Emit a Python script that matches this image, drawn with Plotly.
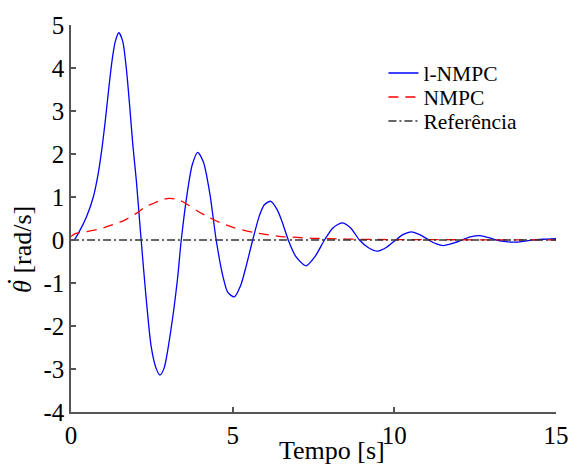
import plotly.graph_objects as go

# l-NMPC (blue)
t_lnmpc = [0.0, 0.09, 0.28, 0.48, 0.69, 0.84, 0.96, 1.06, 1.17, 1.28, 1.37, 1.48, 1.6, 1.71, 1.81,
           1.91, 2.02, 2.12, 2.17, 2.32, 2.48, 2.63, 2.75, 2.88, 3.09, 3.29, 3.41,
           3.6, 3.75, 3.92, 4.1, 4.3, 4.49, 4.7, 4.85, 5.05, 5.25, 5.42, 5.62,
           5.82, 5.98, 6.18, 6.38, 6.55, 6.72, 6.95, 7.27, 7.55, 7.84, 8.1, 8.38,
           8.65, 8.92, 9.2, 9.48, 9.76, 10.04, 10.28, 10.52, 10.8, 11.06, 11.3, 11.52,
           11.8, 12.09, 12.35, 12.65, 12.9, 13.16, 13.45, 13.77, 14.1, 14.4, 14.7, 15.0]
y_lnmpc = [0.0, 0.0, 0.23, 0.54, 1.0, 1.54, 2.15, 2.77, 3.54, 4.23, 4.62, 4.82, 4.62, 4.0, 3.16,
           2.23, 1.39, 0.46, 0.0, -1.32, -2.48, -2.98, -3.14, -2.98, -2.09, -0.93, 0.0,
           1.12, 1.75, 2.04, 1.8, 1.05, 0.0, -0.85, -1.22, -1.32, -1.05, -0.6, 0.0,
           0.55, 0.82, 0.9, 0.7, 0.38, 0.0, -0.38, -0.6, -0.38, 0.0, 0.28, 0.4,
           0.28, 0.0, -0.18, -0.26, -0.17, 0.0, 0.13, 0.19, 0.12, 0.0, -0.09, -0.13,
           -0.08, 0.0, 0.07, 0.1, 0.06, 0.0, -0.04, -0.05, -0.02, 0.01, 0.02, 0.03]

# NMPC (red)
t_nmpc = [0.0, 0.13, 0.43, 0.8, 1.15, 1.6, 2.02, 2.32, 2.58, 2.78, 3.05, 3.3, 3.55, 3.9, 4.26,
          4.6, 5.03, 5.64, 6.0, 6.51, 7.0, 7.43, 8.0, 9.0, 10.0, 11.0, 12.0, 13.0, 14.0, 15.0]
y_nmpc = [0.08, 0.15, 0.19, 0.24, 0.32, 0.44, 0.62, 0.78, 0.86, 0.93, 0.97, 0.94, 0.85, 0.68, 0.53,
          0.41, 0.29, 0.18, 0.13, 0.08, 0.06, 0.04, 0.03, 0.015, 0.01, 0.008, 0.006, 0.004, 0.002, 0.0]

# Reference
t_ref = [0.0, 15.0]
y_ref = [0.0, 0.0]

x_ticks = [0, 5, 10, 15]
x_ticklabels = ["0", "5", "10", "15"]
y_ticks = [-4, -3, -2, -1, 0, 1, 2, 3, 4, 5]
y_ticklabels = ["-4", "-3", "-2", "-1", "0", "1", "2", "3", "4", "5"]

FONT = "Liberation Serif, Times New Roman, serif"
AX = "#555555"

L, R, T, B = 71, 21, 25, 52
W, H = 581, 464
PW, PH = W - L - R, H - T - B


def px_x(px):
    return (px - L) / PW


def px_y(py):
    return (H - B - py) / PH


fig = go.Figure()
fig.add_trace(go.Scatter(x=t_lnmpc, y=y_lnmpc, mode="lines", name="l-NMPC", legend="legend",
                         line=dict(color="#0000ff", width=1.3, shape="spline", smoothing=0.7)))
fig.add_trace(go.Scatter(x=t_nmpc, y=y_nmpc, mode="lines", name="NMPC", legend="legend2",
                         line=dict(color="#ff0000", width=1.3, dash="10px,7px", shape="spline", smoothing=0.8)))
fig.add_trace(go.Scatter(x=t_ref, y=y_ref, mode="lines", name="Referência", legend="legend3",
                         line=dict(color="#333333", width=1.3, dash="8px,3px,2px,3px")))

leg_common = dict(xanchor="left", yanchor="middle", bgcolor="rgba(0,0,0,0)",
                  font=dict(size=21.5, family=FONT, color="black"), itemwidth=30,
                  borderwidth=0)

fig.update_layout(
    width=W, height=H,
    margin=dict(l=L, r=R, t=T, b=B),
    paper_bgcolor="white", plot_bgcolor="white",
    font=dict(family=FONT, size=25, color="black"),
    showlegend=True,
    legend=dict(x=px_x(386), y=px_y(73), **leg_common),
    legend2=dict(x=px_x(386), y=px_y(97), **leg_common),
    legend3=dict(x=px_x(386), y=px_y(121), **leg_common),
    xaxis=dict(range=[0, 15], tickvals=x_ticks, ticktext=x_ticklabels,
               showline=True, linecolor=AX, linewidth=1.5, ticks="inside", ticklen=5,
               tickcolor=AX, tickwidth=1.5, showgrid=False, zeroline=False,
               tickfont=dict(size=25, family=FONT)),
    yaxis=dict(range=[-4, 5], tickvals=y_ticks, ticktext=y_ticklabels,
               showline=True, linecolor=AX, linewidth=1.5, ticks="inside", ticklen=5,
               tickcolor=AX, tickwidth=1.5, showgrid=False, zeroline=False,
               tickfont=dict(size=25, family=FONT)),
    annotations=[
        dict(text="Tempo [s]", xref="paper", yref="paper",
             x=px_x(334.5), y=px_y(450), xanchor="center", yanchor="middle",
             showarrow=False, font=dict(size=26, family=FONT)),
        dict(text="<i>θ</i> [rad/s]", xref="paper", yref="paper",
             x=px_x(22), y=px_y(249.5), xanchor="center", yanchor="middle",
             textangle=-90, showarrow=False, font=dict(size=26, family=FONT)),
        dict(text="·", xref="paper", yref="paper",
             x=px_x(9), y=px_y(281), xanchor="center", yanchor="middle",
             showarrow=False, font=dict(size=26, family=FONT)),
    ],
)

fig.write_html("out.html")
